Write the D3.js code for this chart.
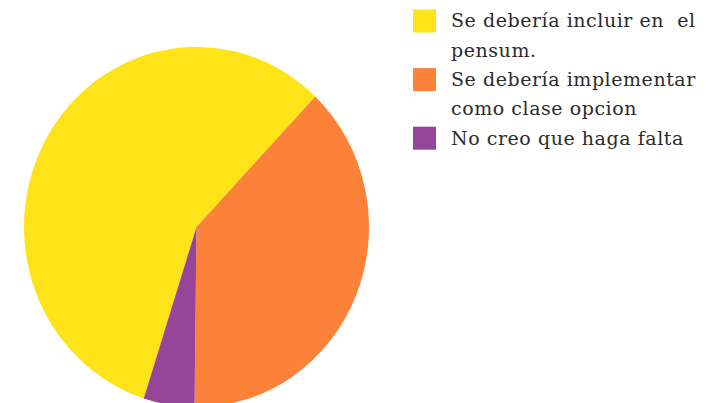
<!DOCTYPE html>
<html>
<head>
<meta charset="utf-8">
<script src="https://cdn.jsdelivr.net/npm/d3@7"></script>
<style>
  html, body { margin: 0; padding: 0; background: #fff; }
  svg { display: block; }
  .legend text { font-family: "DejaVu Serif", serif; font-size: 19px; letter-spacing: 0.55px; fill: #2b2b2b; white-space: pre; }
</style>
</head>
<body>
<svg id="chart" width="719" height="403"></svg>
<script>
// Survey answers and their counts
const categories = [
  "Se debería incluir en  el pensum.",
  "Se debería implementar como clase opcion",
  "No creo que haga falta"
];
const values = [12, 8, 1];
const colors = ["#fde318", "#fc823a", "#964598"];
const legendLines = [
  ["Se debería incluir en  el", "pensum."],
  ["Se debería implementar", "como clase opcion"],
  ["No creo que haga falta"]
];

const svg = d3.select("#chart");

const cx = 196.5, cy = 227, r = 172.5, stretchY = 180 / 172.5;

const startDeg = -162.2;
const pie = d3.pie()
  .sort(null)
  .value(d => d)
  .startAngle(startDeg * Math.PI / 180)
  .endAngle((startDeg + 360) * Math.PI / 180);

const arc = d3.arc().innerRadius(0).outerRadius(r);

const color = d3.scaleOrdinal().domain(d3.range(categories.length)).range(colors);

const g = svg.append("g")
  .attr("transform", `translate(${cx},${cy}) scale(1,${stretchY})`);

g.selectAll("path")
  .data(pie(values))
  .join("path")
  .attr("d", arc)
  .attr("fill", (d, i) => color(i));

// Legend: swatch plus wrapped label lines
const legend = svg.append("g").attr("class", "legend");
const lineH = 29.3;
let row = 0;
legendLines.forEach((lines, i) => {
  const y0 = 9.5 + row * lineH;
  legend.append("rect")
    .attr("x", 413).attr("y", y0)
    .attr("width", 23).attr("height", 23)
    .attr("fill", color(i));
  lines.forEach((t, j) => {
    legend.append("text")
      .attr("x", 451)
      .attr("y", 27.3 + (row + j) * lineH)
      .attr("xml:space", "preserve")
      .text(t);
  });
  row += lines.length;
});
</script>
</body>
</html>
